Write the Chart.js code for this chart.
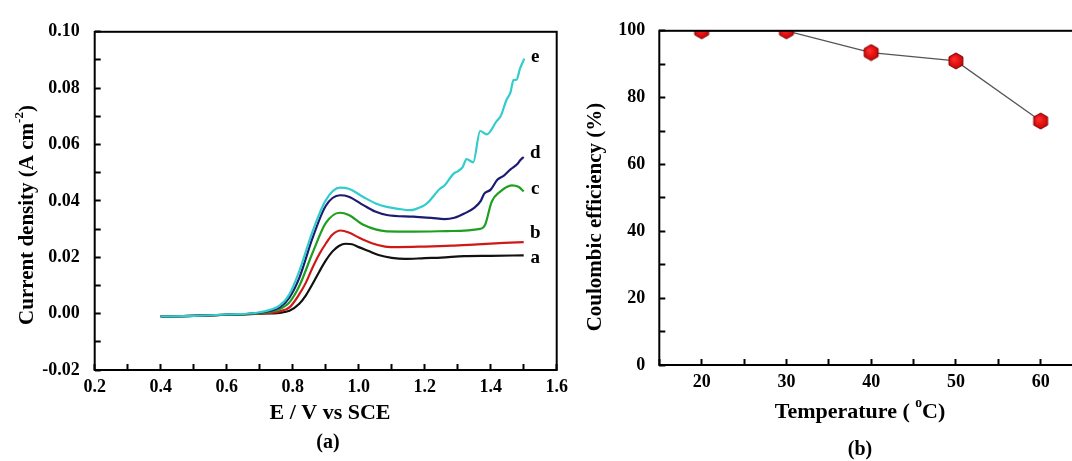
<!DOCTYPE html>
<html>
<head>
<meta charset="utf-8">
<script src="https://cdn.jsdelivr.net/npm/chart.js@4/dist/chart.umd.min.js"></script>
<style>
html, body { margin: 0; padding: 0; background: #fff; overflow: hidden; width: 1072px; height: 461px; }
#boxA { position: absolute; left: 0; top: 0; width: 600px; height: 461px; }
#boxB { position: absolute; left: 560px; top: 0; width: 540px; height: 461px; }
</style>
</head>
<body>
<div id="boxA"><canvas id="chartA"></canvas></div>
<div id="boxB"><canvas id="chartB"></canvas></div>
<script>
// ---- panel (a): polarization curves, E (V vs SCE) and current density (A cm-2)
var aE = [0.40, 0.50, 0.60, 0.70, 0.76, 0.79, 0.82, 0.84, 0.86, 0.88, 0.90, 0.92, 0.94, 0.96, 0.98, 1.00, 1.03, 1.06, 1.10, 1.14, 1.20, 1.25, 1.32, 1.40, 1.50];
var aJ = [-0.0010, -0.0008, -0.0004, 0.0000, 0.0003, 0.0010, 0.0035, 0.0065, 0.0105, 0.0148, 0.0188, 0.0220, 0.0240, 0.0248, 0.0246, 0.0236, 0.0222, 0.0208, 0.0198, 0.0194, 0.0197, 0.0199, 0.0204, 0.0205, 0.0207];

var bE = [0.40, 0.50, 0.60, 0.70, 0.76, 0.79, 0.82, 0.84, 0.86, 0.88, 0.90, 0.92, 0.945, 0.97, 1.00, 1.04, 1.08, 1.12, 1.20, 1.28, 1.36, 1.44, 1.50];
var bJ = [-0.0010, -0.0008, -0.0004, 0.0000, 0.0008, 0.0022, 0.0069, 0.0110, 0.0163, 0.0210, 0.0248, 0.0280, 0.0295, 0.0288, 0.0270, 0.0250, 0.0238, 0.0236, 0.0238, 0.0241, 0.0246, 0.0251, 0.0254];

var cE = [0.40, 0.50, 0.60, 0.70, 0.76, 0.79, 0.82, 0.86, 0.90, 0.943, 0.97, 1.014, 1.085, 1.166, 1.267, 1.368, 1.383, 1.403, 1.428, 1.464, 1.484, 1.50];
var cJ = [-0.0010, -0.0008, -0.0004, 0.0002, 0.0016, 0.0040, 0.0098, 0.0215, 0.0321, 0.0358, 0.0350, 0.0315, 0.0292, 0.0291, 0.0293, 0.0301, 0.0315, 0.0397, 0.0432, 0.0455, 0.0450, 0.0434];

var dE = [0.40, 0.50, 0.60, 0.70, 0.76, 0.79, 0.82, 0.86, 0.90, 0.943, 0.97, 1.014, 1.05, 1.085, 1.166, 1.22, 1.26, 1.29, 1.32, 1.35, 1.37, 1.38, 1.40, 1.42, 1.44, 1.46, 1.48, 1.49, 1.50];
var dJ = [-0.0010, -0.0008, -0.0004, 0.0003, 0.0022, 0.0057, 0.0127, 0.0268, 0.0382, 0.0420, 0.0415, 0.0385, 0.0362, 0.0350, 0.0344, 0.0340, 0.0335, 0.0340, 0.0355, 0.0375, 0.0400, 0.0425, 0.0440, 0.0475, 0.0490, 0.0512, 0.0530, 0.0545, 0.0556];

var eE = [0.40, 0.50, 0.60, 0.70, 0.76, 0.79, 0.82, 0.86, 0.90, 0.943, 0.97, 1.014, 1.05, 1.085, 1.12, 1.156, 1.17, 1.206, 1.246, 1.26, 1.287, 1.30, 1.315, 1.327, 1.347, 1.368, 1.388, 1.418, 1.43, 1.448, 1.46, 1.469, 1.478, 1.489, 1.502];
var eJ = [-0.0010, -0.0008, -0.0003, 0.0005, 0.0028, 0.0069, 0.0151, 0.0291, 0.0402, 0.0447, 0.0443, 0.0414, 0.0392, 0.0379, 0.0372, 0.0367, 0.0370, 0.0390, 0.0443, 0.0455, 0.0496, 0.0505, 0.0520, 0.0548, 0.0537, 0.0648, 0.0636, 0.0683, 0.0700, 0.0759, 0.0785, 0.0829, 0.0830, 0.0870, 0.0905];

var curveNames = ['a', 'b', 'c', 'd', 'e'];
var curveColors = ['#111111', '#d01818', '#1ea01e', '#1c1c70', '#33cccc'];
var labelJ = [0.0196, 0.0284, 0.0442, 0.0569, 0.0912];

// ---- panel (b): coulombic efficiency vs temperature
var tempC = [20, 30, 40, 50, 60];
var efficiency = [100, 100, 93.5, 91, 73];

var serif = "'Liberation Serif', 'Times New Roman', serif";

function pts(xs, ys) {
  return xs.map(function (x, i) { return { x: x, y: ys[i] }; });
}

// frame round the plot area, axis titles and caption
var framePlugin = {
  id: 'frame',
  afterDraw: function (chart) {
    var ca = chart.chartArea, ctx = chart.ctx;
    ctx.save();
    ctx.strokeStyle = '#000';
    ctx.lineWidth = 2;
    ctx.strokeRect(ca.left, ca.top, ca.right - ca.left, ca.bottom - ca.top);
    ctx.restore();
  }
};

function drawParts(ctx, parts, size) {
  // parts: [text, sup]  -> measure, then draw centred at 0,0
  var w = 0;
  parts.forEach(function (p) {
    ctx.font = 'bold ' + (p[1] ? size * 0.62 : size) + 'px ' + serif;
    w += ctx.measureText(p[0]).width;
  });
  var x = -w / 2;
  parts.forEach(function (p) {
    var s = p[1] ? size * 0.62 : size;
    ctx.font = 'bold ' + s + 'px ' + serif;
    ctx.fillText(p[0], x, p[1] ? -size * 0.38 : 0);
    x += ctx.measureText(p[0]).width;
  });
}

var titlePlugin = {
  id: 'titles',
  afterDraw: function (chart, args, o) {
    var ctx = chart.ctx;
    ctx.save();
    ctx.fillStyle = '#000';
    ctx.textBaseline = 'middle';
    ctx.textAlign = 'left';
    ctx.save();
    ctx.translate(o.xTitle.x, o.xTitle.y);
    drawParts(ctx, o.xTitle.parts, o.xTitle.size);
    ctx.restore();
    ctx.save();
    ctx.translate(o.yTitle.x, o.yTitle.y);
    ctx.rotate(-Math.PI / 2);
    drawParts(ctx, o.yTitle.parts, o.yTitle.size);
    ctx.restore();
    ctx.save();
    ctx.translate(o.caption.x, o.caption.y);
    drawParts(ctx, [[o.caption.text, false]], o.caption.size);
    ctx.restore();
    ctx.restore();
  }
};

// curve letters at the end of each curve
var letterPlugin = {
  id: 'letters',
  afterDatasetsDraw: function (chart, args, o) {
    if (!o.names) return;
    var ctx = chart.ctx, xs = chart.scales.x, ys = chart.scales.y;
    ctx.save();
    ctx.fillStyle = '#000';
    ctx.font = 'bold 19px ' + serif;
    ctx.textAlign = 'center';
    ctx.textBaseline = 'middle';
    o.names.forEach(function (n, i) {
      ctx.fillText(n, xs.getPixelForValue(o.x), ys.getPixelForValue(o.values[i]));
    });
    ctx.restore();
  }
};

function tickGrid() {
  return { display: true, drawOnChartArea: false, drawTicks: true, tickLength: -6, tickWidth: 2, tickColor: '#000' };
}
var tickFont = { family: serif, weight: 'bold', size: 18 };

// ---- chart (a)
var seriesE = [aE, bE, cE, dE, eE];
var seriesJ = [aJ, bJ, cJ, dJ, eJ];

new Chart(document.getElementById('chartA'), {
  type: 'line',
  data: {
    datasets: curveNames.map(function (n, i) {
      return {
        label: n,
        data: pts(seriesE[i], seriesJ[i]),
        borderColor: curveColors[i],
        borderWidth: 2.2,
        pointRadius: 0,
        cubicInterpolationMode: 'monotone',
        fill: false
      };
    }).reverse()
  },
  options: {
    responsive: true,
    maintainAspectRatio: false,
    animation: false,
    events: [],
    layout: { padding: { left: 0, top: 26, right: 43.3, bottom: 51 } },
    plugins: {
      legend: { display: false },
      tooltip: { enabled: false },
      titles: {
        xTitle: { x: 330, y: 413, size: 22, parts: [['E / V vs SCE', false]] },
        yTitle: { x: 28, y: 215, size: 21, parts: [['Current density (A cm', false], ['-2', true], [')', false]] },
        caption: { x: 328, y: 443, size: 20, text: '(a)' }
      },
      letters: { names: curveNames, values: labelJ, x: 1.535 }
    },
    scales: {
      x: {
        type: 'linear', min: 0.2, max: 1.6,
        afterFit: function (s) { s.height = 40; },
        border: { display: false },
        grid: tickGrid(),
        ticks: {
          stepSize: 0.1, autoSkip: false, maxRotation: 0, padding: 13, color: '#000', font: tickFont,
          callback: function (v) { return Math.round(v * 10) % 2 === 0 ? v.toFixed(1) : ''; }
        }
      },
      y: {
        type: 'linear', min: -0.02, max: 0.10,
        afterFit: function (s) { s.width = 94.7; },
        border: { display: false },
        grid: tickGrid(),
        ticks: {
          stepSize: 0.01, autoSkip: false, padding: 21, color: '#000', font: tickFont,
          callback: function (v) { return Math.round(v * 100) % 2 === 0 ? v.toFixed(2) : ''; }
        }
      }
    }
  },
  plugins: [framePlugin, titlePlugin, letterPlugin]
});

// ---- hexagon marker for chart (b)
var hex = document.createElement('canvas');
hex.width = 18; hex.height = 18;
(function () {
  var g = hex.getContext('2d');
  var cx = 9, cy = 9, r = 8;
  g.beginPath();
  for (var k = 0; k < 6; k++) {
    var a = Math.PI / 2 + k * Math.PI / 3;
    var px = cx + r * Math.cos(a), py = cy + r * Math.sin(a);
    if (k === 0) g.moveTo(px, py); else g.lineTo(px, py);
  }
  g.closePath();
  var grad = g.createRadialGradient(cx - 2, cy - 2, 1, cx, cy, r);
  grad.addColorStop(0, '#ff2a2a');
  grad.addColorStop(1, '#c80000');
  g.fillStyle = grad;
  g.fill();
  g.strokeStyle = '#7a0000';
  g.lineWidth = 1;
  g.stroke();
})();

// ---- chart (b)
new Chart(document.getElementById('chartB'), {
  type: 'line',
  data: {
    datasets: [{
      label: 'Coulombic efficiency',
      data: pts(tempC, efficiency),
      borderColor: '#555555',
      borderWidth: 1.3,
      tension: 0,
      pointStyle: hex,
      fill: false
    }]
  },
  options: {
    responsive: true,
    maintainAspectRatio: false,
    animation: false,
    events: [],
    layout: { padding: { left: 0, top: 26, right: 17, bottom: 56 } },
    plugins: {
      legend: { display: false },
      tooltip: { enabled: false },
      titles: {
        xTitle: { x: 300, y: 412, size: 22, parts: [['Temperature ( ', false], ['o', true], ['C)', false]] },
        yTitle: { x: 36, y: 217, size: 21, parts: [['Coulombic efficiency (%)', false]] },
        caption: { x: 300, y: 450, size: 20, text: '(b)' }
      },
      letters: {}
    },
    scales: {
      x: {
        type: 'linear', min: 15, max: 65,
        afterFit: function (s) { s.height = 40; },
        border: { display: false },
        grid: tickGrid(),
        ticks: {
          stepSize: 5, autoSkip: false, maxRotation: 0, padding: 13, color: '#000', font: tickFont,
          callback: function (v) { return v % 10 === 0 ? String(v) : ''; }
        }
      },
      y: {
        type: 'linear', min: 0, max: 100,
        afterFit: function (s) { s.width = 99.3; },
        border: { display: false },
        grid: tickGrid(),
        ticks: {
          stepSize: 10, autoSkip: false, padding: 20, color: '#000', font: tickFont,
          callback: function (v) { return v % 20 === 0 ? String(v) : ''; }
        }
      }
    }
  },
  plugins: [framePlugin, titlePlugin, letterPlugin]
});
</script>
</body>
</html>
